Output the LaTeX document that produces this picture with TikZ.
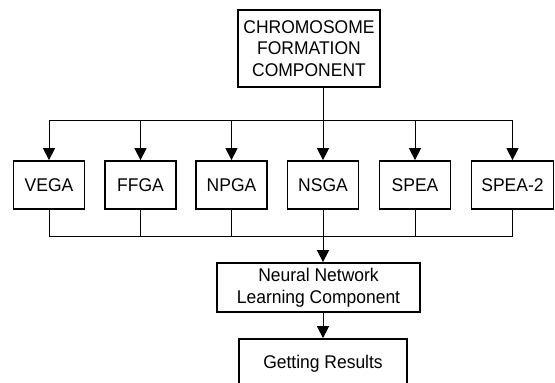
\documentclass[tikz,border=0pt]{standalone}
\usepackage{fontspec}
\setmainfont[FakeStretch = 0.95]{Liberation Sans}
\usetikzlibrary{
    arrows.meta,
    calc
}
\tikzset {
    block/.style = {
        draw,
        line width = 1.7pt,
        align = center,
        inner sep = 0pt,
        font = \fontsize{18.4}{21.5}\selectfont
    },
    algo/.style = {block, minimum width = 71pt, minimum height = 48pt, inner xsep = 10pt},
    link/.style = {line width = 0.9pt},
    flow/.style = {link, -{Triangle[length = 12pt, width = 12pt]}},
}

\begin{document}
\begin{tikzpicture}[x = 1pt, y = -1pt]
    \useasboundingbox (0, 0) rectangle (555, 383);
    \node (chrom) [block, minimum width = 142pt, minimum height = 77pt] at (309, 48.5) {CHROMOSOME\\FORMATION\\COMPONENT};
    %
    \node (vega) [algo] at (49, 185) {VEGA};
    \node (ffga) [algo] at (140.5, 185) {FFGA};
    \node (npga) [algo] at (231.5, 185) {NPGA};
    \node (nsga) [algo] at (323, 185) {NSGA};
    \node (spea) [algo] at (415, 185) {SPEA};
    \node (spea2) [algo] at (512.5, 185) {SPEA-2};
    %
    \node (nn) [block, minimum width = 203pt, minimum height = 49pt] at (318.5, 287.5) {Neural Network\\Learning Component};
    \node (results) [block, minimum width = 168pt, minimum height = 49pt] at (323, 363.5) {Getting Results};
    %
    \coordinate (top bus) at (0, 120);
    \coordinate (low bus) at (0, 236.5);
    \draw [link] (vega.north |- top bus) -- (spea2.north |- top bus);
    \draw [flow] (chrom.south -| nsga) -- (nsga.north);
    \foreach \n in {vega, ffga, npga, spea, spea2}
        \draw [flow] (\n.north |- top bus) -- (\n.north);
    \foreach \n in {vega, ffga, npga, spea, spea2}
        \draw [link] (\n.south) -- (\n.south |- low bus);
    \draw [link] (vega.south |- low bus) -- (spea2.south |- low bus);
    \draw [flow] (nsga.south) -- (nsga.south |- nn.north);
    \draw [flow] (nn.south -| results) -- (results.north);
\end{tikzpicture}
\end{document}
